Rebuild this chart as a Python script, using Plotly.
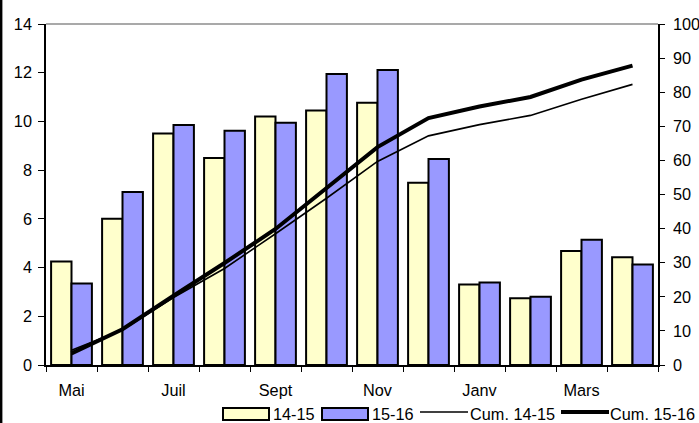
import plotly.graph_objects as go

months = ["Mai", "Juin", "Juil", "Août", "Sept", "Oct", "Nov", "Déc", "Janv", "Févr", "Mars", "Avril"]
tick_text = ["Mai", "", "Juil", "", "Sept", "", "Nov", "", "Janv", "", "Mars", ""]

v_1415 = [4.25, 6.0, 9.5, 8.5, 10.2, 10.45, 10.77, 7.48, 3.31, 2.74, 4.68, 4.42]
v_1516 = [3.35, 7.1, 9.85, 9.62, 9.95, 11.95, 12.11, 8.46, 3.39, 2.80, 5.14, 4.13]
cum_1415 = [4.3, 10.3, 19.8, 28.3, 38.5, 48.9, 59.7, 67.2, 70.5, 73.2, 77.9, 82.3]
cum_1516 = [3.4, 10.5, 20.3, 29.9, 39.9, 51.8, 63.9, 72.4, 75.8, 78.6, 83.7, 87.8]
legend_names = ["14-15", "15-16", "Cum. 14-15", "Cum. 15-16"]

FONT = "Liberation Sans, Arial, sans-serif"
FS = 16.3
W, H = 699, 423
ML, MR, MT, MB = 46, 41, 24, 58
PW, PH = W - ML - MR, H - MT - MB


def px(x):
    return (x - ML) / PW


def py(y):
    return (H - MB - y) / PH


fig = go.Figure()
fig.add_trace(go.Bar(x=months, y=v_1415, name=legend_names[0],
                     marker=dict(color="#FFFFCC", line=dict(color="black", width=2))))
fig.add_trace(go.Bar(x=months, y=v_1516, name=legend_names[1],
                     marker=dict(color="#9999FF", line=dict(color="black", width=2))))
fig.add_trace(go.Scatter(x=months, y=cum_1415, name=legend_names[2], mode="lines",
                         line=dict(color="black", width=1.6), yaxis="y2"))
fig.add_trace(go.Scatter(x=months, y=cum_1516, name=legend_names[3], mode="lines",
                         line=dict(color="black", width=4), yaxis="y2"))

# custom legend (wide swatches like the original)
shapes = [
    dict(type="line", xref="paper", yref="paper", x0=0, x1=1, y0=1, y1=1,
         line=dict(color="#555555", width=1.2)),
    dict(type="line", xref="paper", yref="paper", x0=px(1.2), x1=px(1.2),
         y0=py(H + 10), y1=py(-10), line=dict(color="black", width=2.4)),
    dict(type="rect", xref="paper", yref="paper", x0=px(223), x1=px(269),
         y0=py(420), y1=py(408), fillcolor="#FFFFCC", line=dict(color="black", width=2)),
    dict(type="rect", xref="paper", yref="paper", x0=px(322), x1=px(368),
         y0=py(420), y1=py(408), fillcolor="#9999FF", line=dict(color="black", width=2)),
    dict(type="line", xref="paper", yref="paper", x0=px(420), x1=px(468),
         y0=py(412), y1=py(412), line=dict(color="black", width=1.6)),
    dict(type="line", xref="paper", yref="paper", x0=px(561), x1=px(609),
         y0=py(412), y1=py(412), line=dict(color="black", width=4)),
]
annotations = [
    dict(text=name, xref="paper", yref="paper", x=px(xp), y=py(414), xanchor="left",
         yanchor="middle", showarrow=False, font=dict(size=FS))
    for name, xp in zip(legend_names, [271, 370, 468, 608])
]

fig.update_layout(
    width=W, height=H,
    margin=dict(l=ML, r=MR, t=MT, b=MB, autoexpand=False),
    paper_bgcolor="white", plot_bgcolor="white",
    font=dict(family=FONT, size=FS, color="black"),
    barmode="group", bargap=0.2, bargroupgap=0,
    showlegend=False,
    xaxis=dict(type="category", tickmode="array", tickvals=months, ticktext=tick_text,
               tickson="boundaries", ticks="outside", ticklen=5, tickcolor="black",
               showline=True, linecolor="black", linewidth=1.5, showgrid=False,
               ticklabelstandoff=10, range=[-0.5, 11.5]),
    yaxis=dict(range=[0, 14], dtick=2, ticks="outside", ticklen=6, tickcolor="black",
               showline=True, linecolor="black", linewidth=1.5, showgrid=False,
               zeroline=False, ticklabelstandoff=3),
    yaxis2=dict(range=[0, 100], dtick=10, overlaying="y", side="right", ticks="outside",
                ticklen=5, tickcolor="black", showline=True, linecolor="black",
                linewidth=1.5, showgrid=False, zeroline=False, ticklabelstandoff=5),
    yaxis3=dict(range=[0, 14], dtick=2, overlaying="y", side="left", ticks="inside",
                ticklen=6, tickcolor="black", showticklabels=False, showline=False,
                showgrid=False, zeroline=False),
    yaxis4=dict(range=[0, 100], dtick=10, overlaying="y", side="right", ticks="inside",
                ticklen=5, tickcolor="black", showticklabels=False, showline=False,
                showgrid=False, zeroline=False),
    shapes=shapes,
    annotations=annotations,
)

fig.write_html("out.html", config={"displayModeBar": False},
               post_script="document.body.style.margin='0';")
